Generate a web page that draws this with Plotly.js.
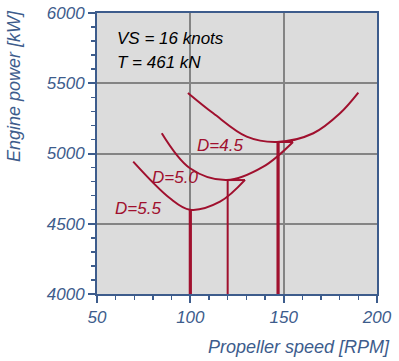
<!DOCTYPE html>
<html><head><meta charset="utf-8">
<script src="https://cdn.plot.ly/plotly-3.0.1.min.js"></script>
<style>html,body{margin:0;padding:0;background:#fff;}#chart{width:399px;height:361px;}</style>
</head><body><div id="chart"></div>
<script>
// Propeller diameter curves: speed [RPM] vs engine power [kW]
var rpm45 = [98.7, 112.3, 130.2, 146.4, 165.9, 180.2, 190];
var pow45 = [5431, 5286, 5120, 5082, 5144, 5286, 5433];
var rpm50 = [84.7, 99.8, 119.5, 139.1, 155];
var pow50 = [5144, 4895, 4811, 4906, 5082];
var rpm55 = [69.4, 89.1, 99.8, 115.9, 129.3];
var pow55 = [4942, 4681, 4600, 4657, 4812];
// optimum speed / power markers
var optRpm = [100, 120, 147];
var optPow = [4600, 4811, 5082];
var optWidth = [3.2, 2, 3.2];
var connEnd = [null, 129.3, 155];
var curveLabels = ["D=5.5", "D=5.0", "D=4.5"];
var labelRpm = [58.6, 78.4, 102.5];
var labelPow = [4612, 4826, 5060];
var xTicks = [50, 100, 150, 200];
var yTicks = [4000, 4500, 5000, 5500, 6000];

var red = '#a0102e';
var blue = '#3d5c8c';
var fam = 'Arial, "Liberation Sans", sans-serif';

var traces = [];
[[rpm45,pow45],[rpm50,pow50],[rpm55,pow55]].forEach(function(c){
  traces.push({x:c[0], y:c[1], mode:'lines', line:{color:red, width:2, shape:'spline', smoothing:1}, hoverinfo:'none', showlegend:false});
});
for (var i=0;i<optRpm.length;i++){
  traces.push({x:[optRpm[i],optRpm[i]], y:[4000,optPow[i]], mode:'lines', line:{color:red, width:optWidth[i]}, hoverinfo:'none', showlegend:false});
  if (connEnd[i]!==null){
    traces.push({x:[optRpm[i],connEnd[i]], y:[optPow[i],optPow[i]], mode:'lines', line:{color:red, width:2}, hoverinfo:'none', showlegend:false});
  }
}

var ann = [
  {x:59.6, y:5822, xref:'x', yref:'y', text:'VS = 16 knots', showarrow:false, xanchor:'left', yanchor:'middle', font:{family:fam, size:17, color:'#000', style:'italic'}},
  {x:59.6, y:5651, xref:'x', yref:'y', text:'T = 461 kN', showarrow:false, xanchor:'left', yanchor:'middle', font:{family:fam, size:17, color:'#000', style:'italic'}},
  {x:1.054, y:-0.189, xref:'paper', yref:'paper', text:'Propeller speed [RPM]', showarrow:false, xanchor:'right', yanchor:'middle', font:{family:fam, size:18, color:blue, style:'italic'}},
  {x:-0.296, y:1.018, xref:'paper', yref:'paper', text:'Engine power [kW]', textangle:-90, showarrow:false, xanchor:'center', yanchor:'top', font:{family:fam, size:18, color:blue, style:'italic'}}
];
for (var j=0;j<curveLabels.length;j++){
  ann.push({x:labelRpm[j], y:labelPow[j], xref:'x', yref:'y', text:curveLabels[j], showarrow:false, xanchor:'left', yanchor:'middle', font:{family:fam, size:17, color:red, style:'italic'}});
}

var layout = {
  width:399, height:361,
  margin:{l:97, r:22, t:13, b:67},
  paper_bgcolor:'#ffffff', plot_bgcolor:'#dcdcdc',
  showlegend:false,
  xaxis:{range:[50,200], tickvals:xTicks, ticktext:xTicks.map(String), showgrid:true, gridcolor:'#848484', gridwidth:2,
    zeroline:false, showline:true, linecolor:blue, linewidth:2, mirror:true,
    ticks:'outside', ticklen:7, tickwidth:2, tickcolor:blue,
    minor:{dtick:10, tick0:50, ticks:'outside', ticklen:4, tickwidth:1.5, tickcolor:blue, showgrid:false},
    tickfont:{family:fam, size:17, color:blue, style:'italic'}, fixedrange:true},
  yaxis:{range:[4000,6000], tickvals:yTicks, ticktext:yTicks.map(String), showgrid:true, gridcolor:'#848484', gridwidth:2,
    zeroline:false, showline:true, linecolor:blue, linewidth:2, mirror:true,
    ticks:'outside', ticklen:7, tickwidth:2, tickcolor:blue,
    minor:{dtick:100, tick0:4000, ticks:'outside', ticklen:4, tickwidth:1.5, tickcolor:blue, showgrid:false},
    tickfont:{family:fam, size:17, color:blue, style:'italic'}, fixedrange:true},
  annotations:ann
};
Plotly.newPlot('chart', traces, layout, {displayModeBar:false, staticPlot:true});
</script></body></html>
